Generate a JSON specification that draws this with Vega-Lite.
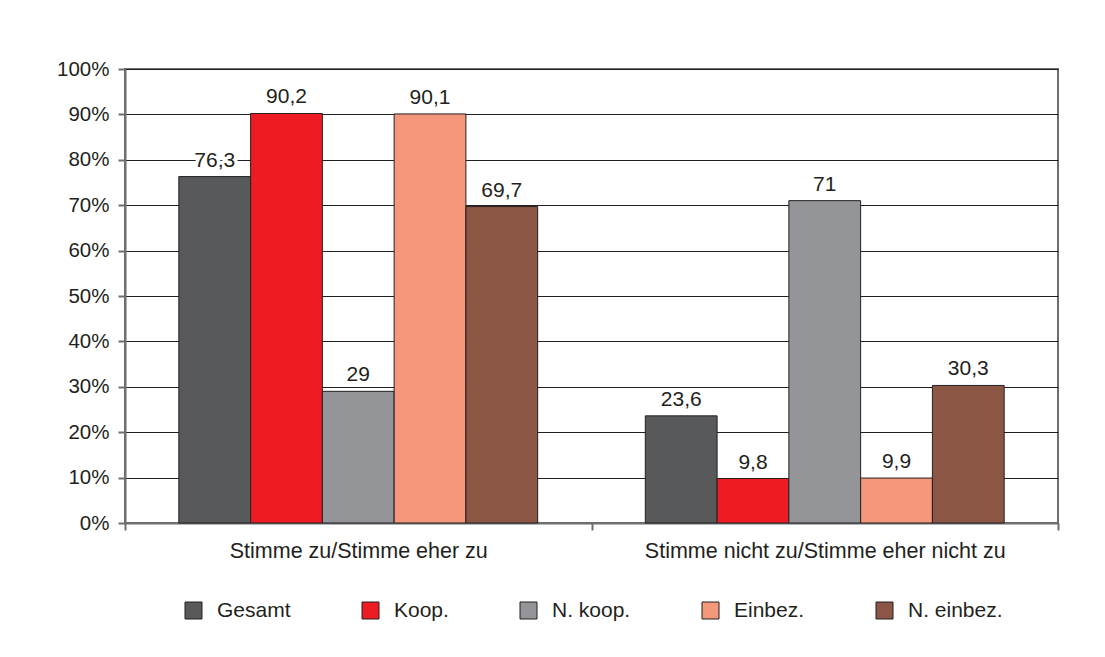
{
  "$schema": "https://vega.github.io/schema/vega-lite/v6.json",
  "width": 933,
  "height": 454,
  "autosize": {"type": "none"},
  "padding": {"left": 125, "top": 69, "right": 47, "bottom": 134},
  "background": "white",
  "config": {
    "locale": {
      "number": {"decimal": ",", "thousands": ".", "grouping": [3], "currency": ["", " €"]}
    },
    "font": "Liberation Sans",
    "view": {"stroke": "#6d6e71", "strokeWidth": 2},
    "axis": {
      "labelFont": "Liberation Sans",
      "labelFontSize": 20.5,
      "labelColor": "#231f20",
      "labelLimit": 0,
      "domainColor": "#6d6e71",
      "domainWidth": 2,
      "tickColor": "#6d6e71",
      "tickWidth": 2,
      "tickSize": 7,
      "title": null
    },
    "legend": {
      "orient": "none",
      "legendX": 58,
      "legendY": 531,
      "direction": "horizontal",
      "title": null,
      "padding": 0,
      "symbolType": "square",
      "symbolSize": 289,
      "symbolStrokeColor": "#231f20",
      "symbolStrokeWidth": 1,
      "symbolOpacity": 1,
      "labelFont": "Liberation Sans",
      "labelFontSize": 21,
      "labelColor": "#231f20",
      "labelOffset": 13,
      "labelLimit": 0,
      "columnPadding": 69
    }
  },
  "data": {
    "values": [
      {"antwort": "Stimme zu/Stimme eher zu", "gruppe": "Gesamt", "anteil": 76.3},
      {"antwort": "Stimme zu/Stimme eher zu", "gruppe": "Koop.", "anteil": 90.2},
      {"antwort": "Stimme zu/Stimme eher zu", "gruppe": "N. koop.", "anteil": 29},
      {"antwort": "Stimme zu/Stimme eher zu", "gruppe": "Einbez.", "anteil": 90.1},
      {"antwort": "Stimme zu/Stimme eher zu", "gruppe": "N. einbez.", "anteil": 69.7},
      {"antwort": "Stimme nicht zu/Stimme eher nicht zu", "gruppe": "Gesamt", "anteil": 23.6},
      {"antwort": "Stimme nicht zu/Stimme eher nicht zu", "gruppe": "Koop.", "anteil": 9.8},
      {"antwort": "Stimme nicht zu/Stimme eher nicht zu", "gruppe": "N. koop.", "anteil": 71},
      {"antwort": "Stimme nicht zu/Stimme eher nicht zu", "gruppe": "Einbez.", "anteil": 9.9},
      {"antwort": "Stimme nicht zu/Stimme eher nicht zu", "gruppe": "N. einbez.", "anteil": 30.3}
    ]
  },
  "encoding": {
    "x": {
      "field": "antwort",
      "type": "nominal",
      "sort": ["Stimme zu/Stimme eher zu", "Stimme nicht zu/Stimme eher nicht zu"],
      "scale": {"paddingInner": 0, "paddingOuter": 0},
      "axis": {"labelAngle": 0, "tickBand": "extent", "labelPadding": 10, "labelFontSize": 21.5, "grid": false}
    },
    "xOffset": {
      "field": "gruppe",
      "type": "nominal",
      "sort": ["Gesamt", "Koop.", "N. koop.", "Einbez.", "N. einbez."],
      "scale": {"paddingInner": 0, "paddingOuter": 0.75}
    },
    "y": {
      "field": "anteil",
      "type": "quantitative",
      "scale": {"domain": [0, 100], "nice": false},
      "axis": {
        "values": [0, 10, 20, 30, 40, 50, 60, 70, 80, 90, 100],
        "labelExpr": "datum.value + '%'",
        "labelPadding": 9,
        "grid": true,
        "gridColor": "#231f20",
        "gridWidth": 1,
        "gridOpacity": 1
      }
    }
  },
  "layer": [
    {
      "mark": {"type": "bar", "stroke": "#231f20", "strokeWidth": 1},
      "encoding": {
        "color": {
          "field": "gruppe",
          "type": "nominal",
          "scale": {
            "domain": ["Gesamt", "Koop.", "N. koop.", "Einbez.", "N. einbez."],
            "range": ["#58595b", "#ed1c24", "#939598", "#f4977a", "#8c5645"]
          }
        }
      }
    },
    {
      "mark": {
        "type": "text",
        "baseline": "alphabetic",
        "dy": -10,
        "fontSize": 21,
        "fill": "white",
        "stroke": "white",
        "strokeWidth": 7,
        "strokeJoin": "round"
      },
      "encoding": {"text": {"field": "anteil", "type": "quantitative", "format": ".4~g"}}
    },
    {
      "mark": {
        "type": "text",
        "baseline": "alphabetic",
        "dy": -10,
        "fontSize": 21,
        "fill": "#231f20"
      },
      "encoding": {"text": {"field": "anteil", "type": "quantitative", "format": ".4~g"}}
    }
  ]
}
